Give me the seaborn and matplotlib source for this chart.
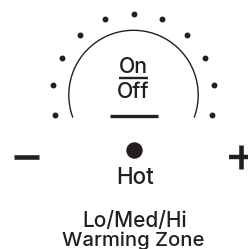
import numpy as np
import pandas as pd
import matplotlib.pyplot as plt
import seaborn as sns

# === DATA ===
# dial dots, angle in degrees counted from 3 o'clock, counter-clockwise
DOT_ANGLES = [-14, 6.8, 27.6, 48.4, 69.2, 90, 110.8, 131.6, 152.4, 173.2, 194]
ARC_SPAN = [-20, 200]          # inner knob outline, start/end angle
KNOB_LABELS = ["On", "Off"]
CENTER_LABEL = "Hot"
ZONE_LABELS = ["Lo/Med/Hi", "Warming Zone"]

INK = "#231f20"
FONT = ["Inter", "DejaVu Sans"]
WEIGHT = "medium"

# dial geometry in pixel units (y grows downward)
CX, CY = 133.5, 95.0
R_DOTS, R_ARC = 80.8, 64.7


def draw_icon():
    sns.set_style("white")
    plt.rcParams["font.family"] = FONT
    plt.rcParams["font.weight"] = WEIGHT

    fig = plt.figure(figsize=(2.48, 2.49), dpi=100)
    ax = fig.add_axes([0, 0, 1, 1])
    ax.set_xlim(0, 248)
    ax.set_ylim(249, 0)
    ax.axis("off")

    # 1. outer dots
    a = np.radians(DOT_ANGLES)
    dots = pd.DataFrame({"x": CX + R_DOTS * np.cos(a), "y": CY - R_DOTS * np.sin(a)})
    sns.scatterplot(data=dots, x="x", y="y", s=18, color=INK, linewidth=0, ax=ax)

    # 2. knob outline arc
    t = np.radians(np.linspace(ARC_SPAN[0], ARC_SPAN[1], 200))
    arc = pd.DataFrame({"x": CX + R_ARC * np.cos(t), "y": CY - R_ARC * np.sin(t)})
    sns.lineplot(data=arc, x="x", y="y", sort=False, estimator=None,
                 color=INK, linewidth=1.0, ax=ax)

    # 3. On / Off labels with divider, and the bar under them
    ax.text(133, 73.3, KNOB_LABELS[0], ha="center", va="baseline",
            fontsize=15.4, color=INK)
    ax.text(133, 98.3, KNOB_LABELS[1], ha="center", va="baseline",
            fontsize=15.4, color=INK)
    ax.plot([119, 147.7], [78.3, 78.3], color=INK, lw=1.7, solid_capstyle="butt")
    ax.plot([109.5, 158], [116, 116], color=INK, lw=2.4, solid_capstyle="butt")

    # 4. Hot dot and label
    sns.scatterplot(x=[134.2], y=[150], s=140, color=INK, linewidth=0, ax=ax)
    ax.text(135.5, 183.8, CENTER_LABEL, ha="center", va="baseline",
            fontsize=16.2, color=INK)

    # 5. minus / plus
    ax.plot([14, 39], [157.2, 157.2], color=INK, lw=3.3, solid_capstyle="butt")
    ax.plot([229, 253], [157.2, 157.2], color=INK, lw=3.2, solid_capstyle="butt")
    ax.plot([241, 241], [145.3, 169.3], color=INK, lw=3.3, solid_capstyle="butt")

    # 6. zone caption
    ax.text(134.5, 226.6, ZONE_LABELS[0], ha="center", va="baseline",
            fontsize=15, color=INK)
    ax.text(133, 246.2, ZONE_LABELS[1], ha="center", va="baseline",
            fontsize=14.6, color=INK)

    fig.savefig("out.png", dpi=100)


if __name__ == "__main__":
    draw_icon()
